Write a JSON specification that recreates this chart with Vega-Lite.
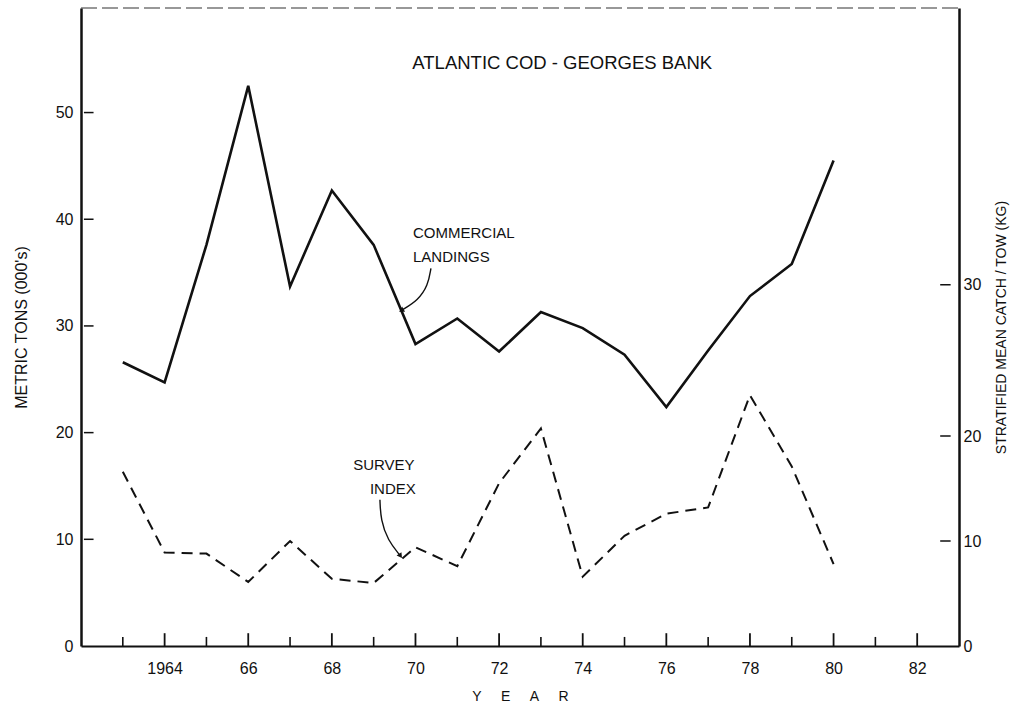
{
"$schema":"https://vega.github.io/schema/vega-lite/v6.json",
"width":878,"height":638,
"autosize":"none",
"padding":{"left":81,"top":8,"right":68,"bottom":61},
"background":"white",
"config":{"view":{"stroke":null},"font":"Liberation Sans"},
"datasets":{
"cod":[
{"year":1963,"landings":26.6,"survey":16.6},
{"year":1964,"landings":24.7,"survey":8.9},
{"year":1965,"landings":37.6,"survey":8.8},
{"year":1966,"landings":52.5,"survey":6.1},
{"year":1967,"landings":33.7,"survey":10.0},
{"year":1968,"landings":42.7,"survey":6.4},
{"year":1969,"landings":37.6,"survey":6.0},
{"year":1970,"landings":28.3,"survey":9.4},
{"year":1971,"landings":30.7,"survey":7.6},
{"year":1972,"landings":27.6,"survey":15.5},
{"year":1973,"landings":31.3,"survey":20.5},
{"year":1974,"landings":29.8,"survey":6.6},
{"year":1975,"landings":27.3,"survey":10.5},
{"year":1976,"landings":22.4,"survey":12.6},
{"year":1977,"landings":27.7,"survey":13.2},
{"year":1978,"landings":32.8,"survey":22.7},
{"year":1979,"landings":35.8,"survey":17.1},
{"year":1980,"landings":45.5,"survey":7.8}
],
"leftTicks":[{"v":10},{"v":20},{"v":30},{"v":40},{"v":50}],
"rightTicks":[{"v":10},{"v":20},{"v":30}],
"years":[{"year":1963},{"year":1964},{"year":1965},{"year":1966},{"year":1967},{"year":1968},{"year":1969},{"year":1970},{"year":1971},{"year":1972},{"year":1973},{"year":1974},{"year":1975},{"year":1976},{"year":1977},{"year":1978},{"year":1979},{"year":1980},{"year":1981},{"year":1982}],
"notes":[
{"x":1969.94,"y":38.7,"text":"COMMERCIAL"},
{"x":1969.94,"y":36.5,"text":"LANDINGS"},
{"x":1968.51,"y":16.96,"text":"SURVEY"},
{"x":1968.91,"y":14.7,"text":"INDEX"}
],
"heading":[{"x":1973.51,"y":54.6,"text":"ATLANTIC COD - GEORGES BANK"}],
"arrows":[
{"a":"c","i":1,"x":1970.37,"y":35.4},
{"a":"c","i":2,"x":1970.30,"y":33.8},
{"a":"c","i":3,"x":1970.06,"y":32.4},
{"a":"c","i":4,"x":1969.68,"y":31.5},
{"a":"s","i":1,"x":1969.15,"y":13.7},
{"a":"s","i":2,"x":1969.17,"y":11.8},
{"a":"s","i":3,"x":1969.34,"y":9.9},
{"a":"s","i":4,"x":1969.63,"y":8.5}
],
"border":[{"x":1962,"x2":1983,"y":59.8}]
},
"layer":[
{"data":{"name":"cod"},"mark":{"type":"line","color":"#111","strokeWidth":2.6,"strokeJoin":"miter"},
"encoding":{
"x":{"field":"year","type":"quantitative","scale":{"domain":[1962,1983],"nice":false,"zero":false},
"axis":{"values":[1964,1966,1968,1970,1972,1974,1976,1978,1980,1982],"labelExpr":"datum.value == 1964 ? '1964' : substring(toString(datum.value), 2)","grid":false,"ticks":false,"labelFont":"Liberation Sans","labelColor":"#111","labelFontSize":16,"labelPadding":14,"domainColor":"#111","domainWidth":2,"title":"Y\u00a0\u00a0\u00a0\u00a0\u00a0E\u00a0\u00a0\u00a0\u00a0\u00a0A\u00a0\u00a0\u00a0\u00a0\u00a0R","titleFont":"Liberation Sans","titleFontWeight":"normal","titleColor":"#111","titleFontSize":14,"titlePadding":13}},
"y":{"field":"landings","type":"quantitative","scale":{"domain":[0,59.8],"nice":false},
"axis":{"values":[0,10,20,30,40,50],"grid":false,"ticks":false,"labelFont":"Liberation Sans","labelColor":"#111","labelFontSize":16,"labelPadding":8,"domainColor":"#111","domainWidth":2.5,"title":"METRIC TONS (000's)","titleFont":"Liberation Sans","titleFontWeight":"normal","titleColor":"#111","titleFontSize":16,"titlePadding":26}}
}},
{"data":{"name":"cod"},"mark":{"type":"line","color":"#111","strokeWidth":2,"strokeDash":[11,7]},
"encoding":{
"x":{"field":"year","type":"quantitative","scale":{"domain":[1962,1983],"nice":false,"zero":false}},
"y":{"field":"survey","type":"quantitative","scale":{"domain":[0,20,48.3],"range":[638,428,0],"nice":false},
"axis":{"orient":"right","values":[0,10,20,30],"grid":false,"ticks":false,"labelFont":"Liberation Sans","labelColor":"#111","labelFontSize":16,"labelPadding":4,"domainColor":"#111","domainWidth":2.5,"title":"STRATIFIED MEAN CATCH / TOW (KG)","titleFont":"Liberation Sans","titleFontWeight":"normal","titleColor":"#111","titleFontSize":14,"titleAngle":270,"titlePadding":28}}
}},
{"data":{"name":"rightTicks"},"mark":{"type":"rule","color":"#111","strokeWidth":1.5},
"encoding":{"x":{"datum":1982.55,"type":"quantitative","scale":{"domain":[1962,1983],"nice":false,"zero":false}},"x2":{"datum":1982.8},
"y":{"field":"v","type":"quantitative","scale":{"domain":[0,20,48.3],"range":[638,428,0],"nice":false},"axis":null}}},
{"data":{"name":"leftTicks"},"mark":{"type":"rule","color":"#111","strokeWidth":1.5},
"encoding":{"x":{"datum":1962.07,"type":"quantitative","scale":{"domain":[1962,1983],"nice":false,"zero":false}},"x2":{"datum":1962.3},
"y":{"field":"v","type":"quantitative","scale":{"domain":[0,59.8],"nice":false},"axis":null}}},
{"data":{"name":"years"},"transform":[{"filter":"datum.year % 2 == 0"}],"mark":{"type":"rule","color":"#111","strokeWidth":1.8},
"encoding":{"x":{"field":"year","type":"quantitative","scale":{"domain":[1962,1983],"nice":false,"zero":false}},
"y":{"datum":0,"type":"quantitative","scale":{"domain":[0,59.8],"nice":false},"axis":null},"y2":{"datum":1.2}}},
{"data":{"name":"years"},"transform":[{"filter":"datum.year % 2 == 1"}],"mark":{"type":"rule","color":"#111","strokeWidth":1.6},
"encoding":{"x":{"field":"year","type":"quantitative","scale":{"domain":[1962,1983],"nice":false,"zero":false}},
"y":{"datum":0,"type":"quantitative","scale":{"domain":[0,59.8],"nice":false},"axis":null},"y2":{"datum":0.85}}},
{"data":{"name":"border"},"mark":{"type":"rule","color":"#333","strokeWidth":1.2,"strokeDash":[16,5]},
"encoding":{"x":{"field":"x","type":"quantitative","scale":{"domain":[1962,1983],"nice":false,"zero":false}},"x2":{"field":"x2"},
"y":{"field":"y","type":"quantitative","scale":{"domain":[0,59.8],"nice":false},"axis":null}}},
{"data":{"name":"heading"},"mark":{"type":"text","fontSize":18.5,"font":"Liberation Sans","align":"center","baseline":"middle","color":"#111"},
"encoding":{"x":{"field":"x","type":"quantitative","scale":{"domain":[1962,1983],"nice":false,"zero":false}},
"y":{"field":"y","type":"quantitative","scale":{"domain":[0,59.8],"nice":false},"axis":null},"text":{"field":"text"}}},
{"data":{"name":"notes"},"mark":{"type":"text","fontSize":15,"font":"Liberation Sans","align":"left","baseline":"middle","color":"#111"},
"encoding":{"x":{"field":"x","type":"quantitative","scale":{"domain":[1962,1983],"nice":false,"zero":false}},
"y":{"field":"y","type":"quantitative","scale":{"domain":[0,59.8],"nice":false},"axis":null},"text":{"field":"text"}}},
{"data":{"name":"arrows"},"mark":{"type":"line","color":"#111","strokeWidth":1.4,"interpolate":"basis"},
"encoding":{"x":{"field":"x","type":"quantitative","scale":{"domain":[1962,1983],"nice":false,"zero":false}},
"y":{"field":"y","type":"quantitative","scale":{"domain":[0,59.8],"nice":false},"axis":null},"detail":{"field":"a"},"order":{"field":"i"}}},
{"data":{"name":"arrows"},"transform":[{"filter":"datum.a == 'c' && datum.i == 4"}],"mark":{"type":"point","shape":"triangle","filled":true,"color":"#111","size":35,"angle":240,"opacity":1},
"encoding":{"x":{"field":"x","type":"quantitative","scale":{"domain":[1962,1983],"nice":false,"zero":false}},
"y":{"field":"y","type":"quantitative","scale":{"domain":[0,59.8],"nice":false},"axis":null}}},
{"data":{"name":"arrows"},"transform":[{"filter":"datum.a == 's' && datum.i == 4"}],"mark":{"type":"point","shape":"triangle","filled":true,"color":"#111","size":35,"angle":145,"opacity":1},
"encoding":{"x":{"field":"x","type":"quantitative","scale":{"domain":[1962,1983],"nice":false,"zero":false}},
"y":{"field":"y","type":"quantitative","scale":{"domain":[0,59.8],"nice":false},"axis":null}}}
],
"resolve":{"scale":{"y":"independent"}}
}
